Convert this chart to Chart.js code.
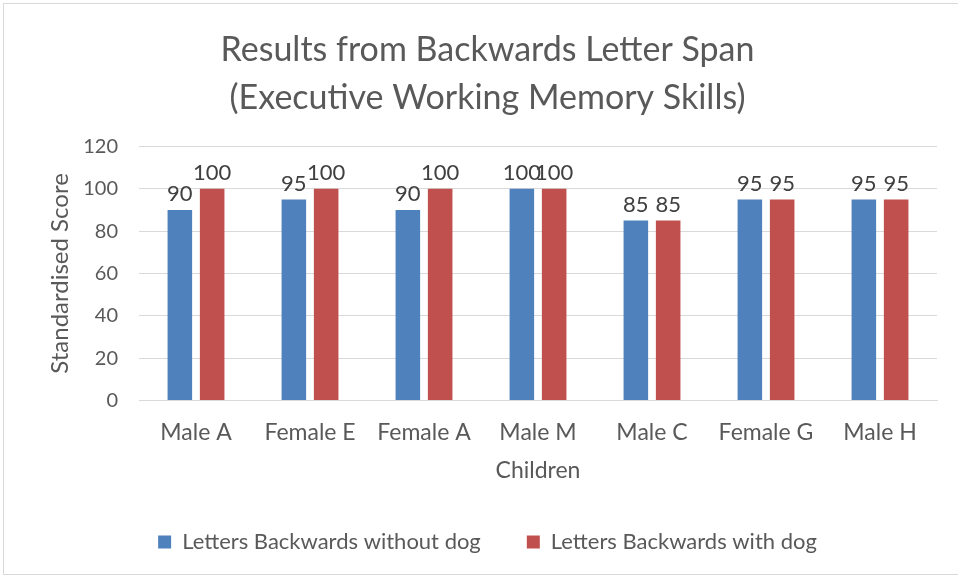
<!DOCTYPE html>
<html>
<head>
<meta charset="utf-8">
<script src="https://cdn.jsdelivr.net/npm/chart.js@4"></script>
<style>
  body { margin: 0; background: #fff; }
  #frame {
    position: absolute; left: 3px; top: 3px; width: 960px; height: 572px;
    border: 1px solid #d9d9d9; box-sizing: border-box;
  }
  #wrap { position: absolute; left: 0; top: 0; width: 958px; height: 578px; }
</style>
</head>
<body>
<div id="frame"></div>
<div id="wrap"><canvas id="chart" width="958" height="578"></canvas></div>
<script>
const children = ["Male A", "Female E", "Female A", "Male M", "Male C", "Female G", "Male H"];
const withoutDog = [90, 95, 90, 100, 85, 95, 95];
const withDog = [100, 100, 100, 100, 85, 95, 95];
const yTicks = [0, 20, 40, 60, 80, 100, 120];

const textColor = "#595959";
const fontFamily = "Lato, 'Open Sans', sans-serif";

// draws the value above each bar
const barLabels = {
  id: "barLabels",
  afterDatasetsDraw(chart) {
    const ctx = chart.ctx;
    ctx.save();
    ctx.fillStyle = "#404040";
    ctx.font = "22px " + fontFamily;
    ctx.textAlign = "center";
    ctx.textBaseline = "bottom";
    chart.data.datasets.forEach((ds, i) => {
      chart.getDatasetMeta(i).data.forEach((bar, j) => {
        ctx.fillText(ds.data[j], bar.x, bar.y - 5);
      });
    });
    ctx.restore();
  }
};

new Chart(document.getElementById("chart"), {
  type: "bar",
  data: {
    labels: children,
    datasets: [
      { label: "Letters Backwards without dog", data: withoutDog, backgroundColor: "#4f81bd" },
      { label: "Letters Backwards with dog", data: withDog, backgroundColor: "#c0504d" }
    ]
  },
  options: {
    responsive: false,
    animation: false,
    layout: { padding: { left: 38, right: 21, top: 22, bottom: 15 } },
    datasets: { bar: { categoryPercentage: 0.567, barPercentage: 0.76 } },
    scales: {
      x: {
        grid: { display: false },
        border: { color: "#d9d9d9" },
        ticks: { color: textColor, font: { size: 23, family: fontFamily }, padding: 10 },
        title: { display: true, text: "Children", color: textColor, font: { size: 23, family: fontFamily, lineHeight: 0.87 }, padding: { top: 5 } }
      },
      y: {
        min: 0, max: 120,
        afterBuildTicks(axis) { axis.ticks = yTicks.map(v => ({ value: v })); },
        afterFit(axis) { axis.width = 101; },
        grid: { color: "#d9d9d9", drawTicks: false },
        border: { display: false },
        ticks: { color: textColor, font: { size: 20, family: fontFamily }, padding: 21 },
        title: { display: true, text: "Standardised Score", color: textColor, font: { size: 24, family: fontFamily }, padding: { top: 8, bottom: 0 } }
      }
    },
    plugins: {
      title: {
        display: true,
        text: ["Results from Backwards Letter Span", "(Executive Working Memory Skills)"],
        color: textColor,
        font: { size: 34, family: fontFamily, weight: "normal", lineHeight: 1.42 },
        padding: { top: 4, bottom: 24 }
      },
      legend: {
        position: "bottom",
        labels: { color: textColor, font: { size: 22, family: fontFamily }, boxWidth: 13, boxHeight: 13, padding: 46 }
      },
      tooltip: { enabled: false }
    }
  },
  plugins: [barLabels]
});
</script>
</body>
</html>
